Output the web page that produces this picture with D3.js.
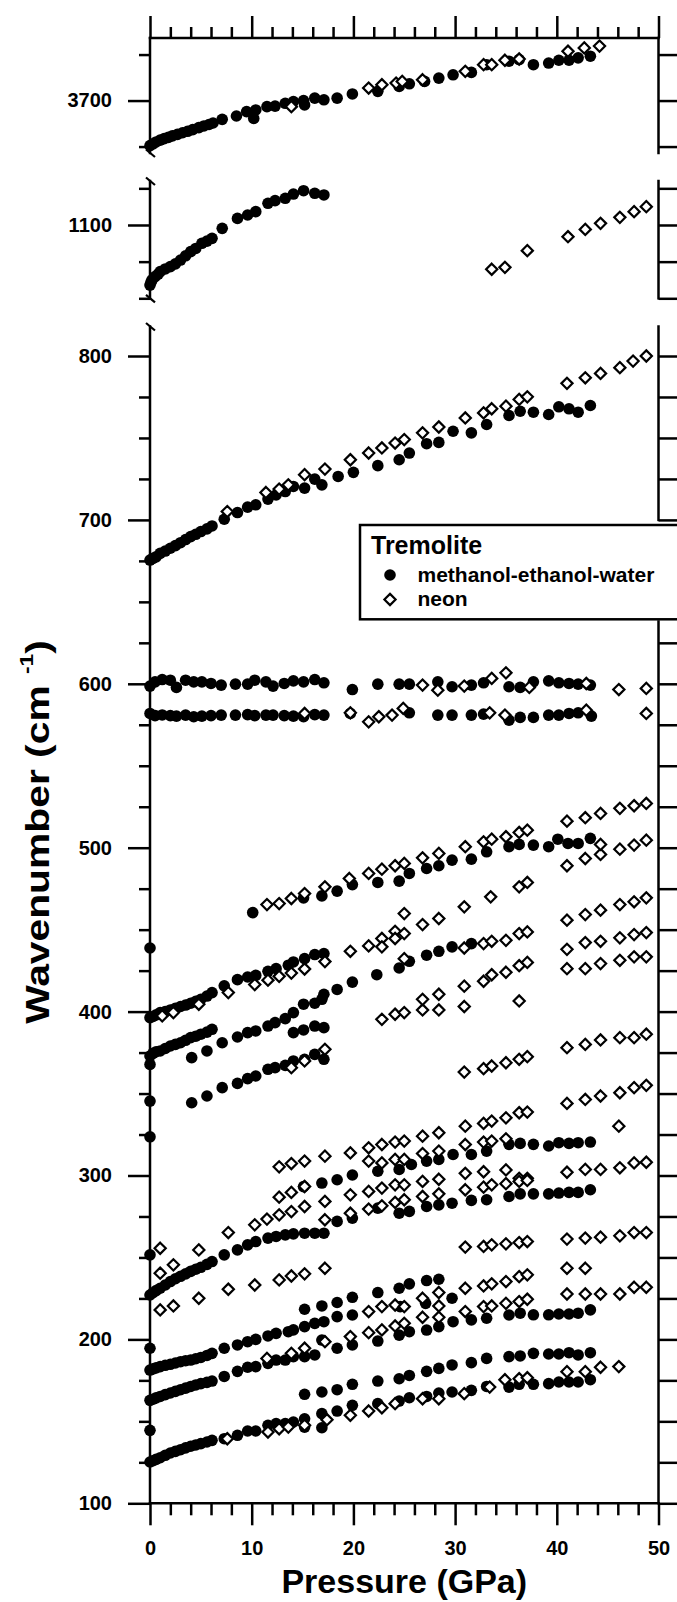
<!DOCTYPE html>
<html>
<head>
<meta charset="utf-8">
<script src="https://cdn.jsdelivr.net/npm/d3@7"></script>
<style>
  html, body { margin: 0; padding: 0; background: #fff; }
  svg { display: block; }
  text { font-family: "Liberation Sans", Arial, sans-serif; font-weight: bold; fill: #000; }
</style>
</head>
<body>
<svg id="chart" width="677" height="1602"></svg>
<script>
// ---------------------------------------------------------------
// Raman mode frequencies of tremolite vs. pressure, [GPa, cm^-1]
// mew  = methanol-ethanol-water medium (filled circles)
// neon = neon medium (open diamonds)
// ---------------------------------------------------------------

// O-H stretching region
const mewOH = [[0,3675.5],[0.3,3676.5],[0.6,3677.5],[1,3678.5],[1.4,3679.3],[1.8,3680],[2.2,3680.8],[2.7,3681.6],[3.2,3682.5],[3.7,3683.3],[4.2,3684.2],[4.8,3685.3],[5.3,3686.2],[5.8,3687],[6.2,3687.8],[7.1,3689.8],[8.5,3691.6],[9.5,3694],[10.2,3690.3],[10.4,3694.9],[11.5,3696.7],[12.3,3697],[13.3,3698.5],[14.1,3699.5],[15.1,3700],[15.2,3697.6],[16.2,3701.3],[17.1,3700.4],[18.4,3701.3],[19.9,3703.6],[22.4,3705],[24.5,3707.7],[25.5,3709.1],[27,3710.4],[28.4,3712.2],[29.8,3714],[31.6,3715.3],[33.1,3719.5],[35.3,3721.4],[36.3,3722.3],[37.7,3719.5],[39.2,3720.4],[40.2,3721.9],[41.2,3721.9],[42.1,3723.2],[43.3,3724.1]];
const neonOH = [[13.9,3696.7],[21.5,3706.8],[22.8,3708.6],[24.2,3709.5],[24.8,3710.4],[26.8,3711.3],[31,3715.9],[32.8,3719.5],[33.6,3719.5],[34.9,3721.9],[36.3,3722.6],[41.1,3726.8],[42.7,3728.6],[44.2,3729.6]];

// Si-O stretching region
const mew1059 = [[0,1059],[0.1,1061],[0.2,1062.5],[0.5,1064.8],[0.8,1066.5],[1,1068.2],[1.5,1070],[2,1071.6],[2.5,1073.5],[3,1076.1],[3.5,1079],[4,1081.8],[4.5,1084],[5.1,1087.5],[5.6,1089],[6.1,1090.9],[7.1,1097.7],[8.6,1104.5],[9.6,1106.8],[10.4,1109.1],[11.6,1114.8],[12.3,1116.6],[13.3,1118.2],[14.1,1121.1],[15.1,1123.4],[16.2,1121.6],[17.1,1120.5]];
const neon1059 = [[33.6,1069.8],[34.9,1071.1],[37.1,1082.5],[41.1,1092],[42.8,1097],[44.3,1101.1],[46.2,1105.2],[47.6,1109.1],[48.8,1112.5]];

// Lattice and bending region, methanol-ethanol-water
const mew675 = [[0,675.5],[0.3,676.5],[0.6,677.5],[1,679.6],[1.5,681],[2,682.7],[2.5,684.3],[3,686.1],[3.5,688],[4,689.8],[4.5,691.2],[5,692.9],[5.6,694.5],[6.1,696.3],[7.3,700.4],[8.6,704.5],[9.6,707.8],[10.4,709.2],[11.6,712.7],[12.4,715.3],[13.3,717.3],[14.1,720.4],[15.2,719.4],[16.2,724.9],[16.9,721.4],[18.5,726.5],[20,729],[22.4,733.1],[24.5,736.7],[25.5,740.8],[27.2,746.5],[28.4,747.3],[29.8,754.1],[31.6,753.1],[33.1,758.2],[35.3,763.7],[36.4,766.3],[37.7,765.7],[39.2,764.3],[40.2,769],[41.2,767.8],[42.1,765.7],[43.3,769.8]];
const mew600 = [[0,598.6],[0.5,601.2],[1.2,602.6],[2,602.2],[2.6,597.8],[3.5,602.2],[4.3,601.2],[5.1,601.2],[6,600.2],[7,599.2],[8.4,599.8],[9.6,599.8],[10.3,602.2],[11.4,601.2],[12.1,598.6],[13.2,600.2],[14.1,601.8],[15.1,601.2],[16.2,602.6],[17.1,600.6],[19.9,596.5],[22.4,599.8],[24.5,599.8],[25.5,599.8],[28.3,601.2],[29.7,598.2],[31.6,599.2],[32.8,600.6],[35.3,598.2],[36.4,597.8],[37.7,601.2],[39.2,601.8],[40.2,600.6],[41.2,600.2],[42.1,599.8],[43.3,599.2]];
const mew581 = [[0,581.9],[0.5,580.6],[1.2,581],[2,580.6],[2.6,580.3],[3.5,580.9],[4.3,579.9],[5.1,580.3],[6,580.6],[7,580.9],[8.4,580.9],[9.6,581.2],[10.3,580.6],[11.4,580.9],[12.1,580.9],[13.2,580.6],[14.1,580.3],[15.1,579.9],[16.2,581.2],[17.1,580.9],[19.7,581.9],[25.5,582.3],[28.3,580.9],[29.7,580.9],[31.6,580.9],[32.8,581.5],[35.3,577.8],[36.4,579.5],[37.7,579.5],[39.2,580.9],[40.2,580.9],[41.2,581.9],[42.1,582.3],[43.4,580.3]];
const mew460 = [[10.1,460.4],[15.1,469.4],[16.9,470.6],[18.4,473.5],[19.9,477.5],[22.4,478.8],[24.5,479.6],[25.5,484.3],[27.2,487.3],[28.4,489],[29.7,492.4],[31.6,493],[33.1,497.5],[35.3,500.6],[36.3,502],[37.7,501.6],[39.2,500.6],[40.1,505.2],[41.1,502.6],[42.1,502.6],[43.3,505.7]];
const mew397 = [[0,396.3],[0.3,397],[0.6,398],[1,399.4],[1.5,400],[2,401],[2.5,402],[3,403.1],[3.5,404],[4,405.1],[4.5,406.3],[5,407.5],[5.6,409.5],[6.1,411.6],[7.3,415.7],[8.6,419.5],[9.6,421.1],[10.4,422.1],[11.6,424.6],[12.4,426.2],[13.6,428.3],[14.1,430.3],[15.2,432.3],[16.2,434.8],[17.1,435.4]];
const mew373 = [[0,372.9],[0.3,374.5],[0.6,375.5],[1,376],[1.5,377.5],[2,379],[2.5,380],[3,381],[3.5,382.5],[4,384.1],[4.5,385],[5,386.2],[5.6,387.5],[6.1,389.2]];
const mew372 = [[4.1,371.9],[5.6,376],[7.1,381],[8.6,384.5],[9.6,387.2],[10.4,388.2],[11.6,391.2],[12.3,393.3],[13.3,395.7],[14.1,399.4],[15.1,404.5],[16.2,405.1],[16.9,407.5],[17.1,410.6],[18.4,413.5],[19.9,418],[22.3,422.5],[24.5,426.6],[25.5,430.7],[27.2,434.4],[28.4,436.8],[29.7,439.5],[31.6,441.5]];
const mew390 = [[14.1,387.2],[15.1,388.8],[16.2,391.2],[17.1,390.2]];
const mew345 = [[4.1,344.4],[5.6,348.5],[7.1,353.6],[8.6,356.2],[9.6,359.1],[10.4,360.7],[11.6,364.8],[12.3,365.8],[13.3,367.2],[14.1,369.9],[15.2,370.9],[16.2,373.9],[17.1,370.9]];
const mewAmbient = [[0,438.8],[0,367.8],[0,345.4],[0,323.6],[0,251.6],[0,194.6],[0,144.5]];
const mew293 = [[15.1,293.2],[16.9,295.4],[18.4,297.4],[19.9,300.3],[22.4,302.6],[24.5,303.7],[25.7,306.7],[27.2,308.8],[28.4,309.8],[29.8,312.8],[31.6,312.8],[33.1,314.9],[35.3,319],[36.4,319.6],[37.7,319],[39.2,318],[40.2,320],[41.2,319.6],[42.1,320],[43.3,320.4]];
const mew227 = [[0,227.1],[0.3,228.5],[0.6,229.8],[1,231.2],[1.5,233.2],[2,235.3],[2.5,237],[3,238.5],[3.5,240],[4,241.5],[4.5,242.8],[5,244],[5.6,245.8],[6.1,247.5],[7.3,251.6],[8.6,254.6],[9.6,257.7],[10.4,259.7],[11.6,261.8],[12.4,262.8],[13.3,263.8],[14.1,264.4],[15.2,264.8],[16.2,264.8],[17.1,264.8],[18.4,272],[19.9,274],[22.4,280.1],[24.5,277],[25.5,278.1],[27.2,281.1],[28.4,282.1],[29.7,283.1],[31.6,284.8],[33.1,285.2],[35.3,287.2],[36.4,288.8],[37.7,288.8],[39.2,288.8],[40.2,289.3],[41.2,289.7],[42.1,289.7],[43.3,291.3]];
const mew218 = [[15.2,218.4],[16.9,220.4],[18.4,222.5],[19.9,225.7],[22.4,228.6],[24.5,231.2],[25.5,233.9],[27.2,235.9],[28.4,236.7]];
const mew182 = [[0,181.3],[0.3,182],[0.6,182.6],[1,183.4],[1.5,184.2],[2,184.8],[2.5,185.6],[3,186.4],[3.5,187],[4,187.4],[4.5,188.2],[5,189],[5.6,190.2],[6.1,191.5],[7.3,194.6],[8.6,196.6],[9.6,198.6],[10.4,200],[11.6,202.1],[12.4,203.7],[13.6,204.7],[14.1,205.8],[15.2,207.8],[16.2,209.8],[17.1,210.8],[18.4,213.9],[19.9,214.9],[24.6,220],[27.1,222],[29.7,225.1]];
const mew163 = [[0,162.8],[0.3,163.5],[0.6,164.3],[1,165.2],[1.5,166.3],[2,167.3],[2.5,168.3],[3,169.3],[3.5,170.3],[4,171.3],[4.5,172.2],[5,173],[5.6,173.8],[6.1,174.6],[7.3,177.4],[8.6,180.5],[9.6,183],[10.4,183.4],[11.6,185.4],[12.4,187.4],[13.3,187.4],[14.1,189.5],[15.2,189.5],[16.2,190.5],[16.9,199.6],[18.4,194.6],[19.9,196.6],[22.4,199],[24.5,202.6],[25.5,204.7],[27.2,205.7],[28.4,207.8],[29.8,210.8],[31.6,211.9],[33.1,212.9],[35.3,214.9],[36.4,216],[37.7,215],[39.2,215],[40.2,215.5],[41.2,215.5],[42.1,216],[43.3,218]];
const mew166 = [[15.2,166.5],[16.9,167.9],[18.4,169.3],[19.9,172.6],[22.4,174.6],[24.5,176],[25.5,178],[27.2,180.5],[28.4,182.3],[29.7,184.4],[31.6,185.8],[33.1,188.4],[35.3,189.5],[36.4,189.9],[37.7,191.5],[39.2,191.1],[40.2,191.1],[41.2,191.9],[42.1,190.5],[43.3,191.9]];
const mew125 = [[0,125.2],[0.3,126],[0.6,126.8],[1,127.8],[1.5,129.3],[2,130.7],[2.5,131.7],[3,132.7],[3.5,133.8],[4,134.8],[4.5,135.6],[5,136.4],[5.6,137.4],[6.1,138.4],[7.3,139.4],[8.6,141.5],[9.6,144.1],[10.4,144.1],[11.6,147.6],[12.4,148.6],[13.3,148.6],[14.1,149.6],[15.2,151.6],[15.2,146.5],[16.9,154.7],[16.9,146.1],[18.4,156.3],[19.9,159.8],[22.4,160.8],[24.5,162.4],[25.5,164.4],[27.2,165.2],[28.4,167.3],[29.7,167.9],[31.6,168.9],[33.1,171.3],[35.3,170.9],[36.3,172.6],[37.7,172.6],[39.2,173],[40.2,174],[41.2,174],[42.1,174],[43.3,175.4]];

// Lattice and bending region, neon
const neon675 = [[7.6,705.1],[11.4,716.7],[12.7,718.8],[13.6,721.4],[15.2,727.6],[17.2,731],[19.7,736.7],[21.5,740.8],[22.8,743.9],[24.1,746.9],[25,749],[26.8,753.1],[28.4,756.7],[31,762.2],[32.8,765.3],[33.6,767.8],[35,769.4],[36.3,773.5],[37.1,775.1],[41,783.3],[42.8,786.7],[44.3,789.4],[46.2,792.9],[47.5,796.9],[48.8,800]];
const neon600 = [[26.8,599.2],[28.3,596.1],[30.9,598.6],[33.6,603.3],[35,606.7],[37.3,597.8],[42.9,600.2],[46.1,596.5],[48.8,597.2]];
const neon581 = [[15.2,581.9],[19.7,582.3],[21.5,576.8],[22.5,579.9],[23.8,580.9],[24.9,585],[33.4,582.3],[34.9,580.9],[42.9,583.9],[48.8,581.9]];
const neon520 = [[11.5,465.3],[12.7,465.9],[13.9,469],[15.2,472],[17.2,476.1],[19.6,481.2],[21.5,484.3],[22.8,486.9],[24.1,489],[25,490.4],[26.8,493.8],[28.4,496.5],[31,500.6],[32.8,503.6],[33.6,505.2],[35,506.7],[36.3,509.3],[37.1,510.7],[41,516.2],[42.8,518.3],[44.3,520.9],[46.2,524],[47.6,525.6],[48.8,527]];
const neon495 = [[41,489],[42.8,493.4],[44.3,495.9],[44.3,502],[46.2,499.1],[47.6,501.6],[48.8,504.6]];
const neon460 = [[19.7,436.8],[21.5,440.1],[22.8,444.6],[24.1,449],[25,459.8],[26.8,453.1],[28.4,456.8],[30.9,463.9],[33.5,470],[36.3,476.1],[37.1,478.8],[41,455.8],[42.8,459.2],[44.3,461.9],[46.2,465.3],[47.6,467],[48.8,469.4]];
const neon440 = [[22.8,439.5],[24.1,444.6],[25,447.6],[25,432.3],[30.9,438.8],[32.8,441.5],[33.6,442.9],[35,443.5],[36.3,447.6],[37.1,448.6],[41,438],[42.8,442.1],[44.3,442.9],[46.2,445],[47.6,447],[48.8,448.2]];
const neon425 = [[30.9,415.5],[32.8,418.5],[33.6,422.5],[35,424],[36.3,428],[37.1,430],[41,426.2],[42.8,426.2],[44.3,429.3],[46.2,431.3],[47.6,433.4],[48.8,433.4]];
const neon400 = [[22.8,395.3],[24.1,398.4],[25,399.4],[26.8,401],[28.4,401],[30.9,403.1],[36.3,406.5],[26.8,407.5],[28.4,410.6]];
const neon397 = [[1.2,397.4],[2.3,399.4],[4.8,404.5],[7.7,411.6],[10.3,416.5],[11.6,419.2],[12.7,421.5],[13.9,423.5],[15.2,426],[17.2,430.5]];
const neon370 = [[13.9,365.8],[15.2,369.9],[17.2,377],[30.9,363.1],[32.8,365.2],[33.6,366.8],[35,368.8],[36.3,370.9],[37.1,372.5],[41,378],[42.8,380],[44.3,382.7],[46.2,384.1],[47.6,384.1],[48.8,386.2]];
const neon345 = [[41,344],[42.8,346.4],[44.3,348.5],[46.2,350.5],[47.6,353.6],[48.8,355],[46.1,330.1]];
const neon305 = [[12.7,305.3],[13.9,307.3],[15.2,308.8],[17.2,311.8],[19.7,313.8],[21.5,316.9],[22.8,318.9],[24.1,320.4],[25,321],[26.8,324],[28.4,326.1],[31,330.1],[32.8,331.8],[33.6,333.2],[35,335.2],[36.3,338.3],[37.1,338.7]];
const neon309 = [[21.5,308.8],[22.8,307.7],[24.1,309.8],[25,309.8],[26.8,313.4],[28.4,314.9],[31,318.9],[32.8,320.4],[33.6,321],[35,322.4],[41,302],[42.8,303.7],[44.3,303.7],[46.2,304.7],[47.6,307.7],[48.8,308.1]];
const neon290 = [[12.7,286.8],[13.9,289.7],[15.2,293.3],[17.2,284.2],[19.7,288.2],[21.5,290.3],[22.8,292.3],[24.1,294.3],[25,294.3],[26.8,296.4],[28.4,297.7],[31,301.3],[32.8,302.3],[35,303.4],[36.3,298.3],[37.1,298.3]];
const neon273 = [[17.2,273],[19.7,277],[21.5,279.5],[22.8,281.5],[24.1,283.6],[25,285.2],[26.8,287.2],[28.4,288.8],[31,291.3],[32.8,292.9],[33.6,294.3],[35,295],[36.3,296.4],[37.1,297]];
const neon240 = [[1,240.4],[2.3,245.5],[4.8,254.6],[7.7,265.2],[10.3,269.9],[11.5,273.4],[12.7,276],[13.9,278],[15.2,281.1],[1,255.6]];
const neon258 = [[31,256.3],[32.8,256.7],[33.6,257.7],[35,258.3],[36.3,259.1],[37.1,259.7],[41,261.2],[42.8,261.8],[44.3,262.4],[46.2,263.2],[47.6,265.2],[48.8,265.2],[41,243.4],[42.8,243.4]];
const neon218 = [[1,218],[2.3,220.4],[4.8,225.1],[7.7,230.6],[10.3,233.2],[12.7,236.3],[13.9,238.7],[15.2,240],[17.2,243.4],[31,231.2],[32.8,232.6],[33.6,233.9],[35,235.3],[36.3,238.3],[37.1,239.4]];
const neon220 = [[21.5,217],[22.8,220],[24.1,221],[25,220],[26.8,225.1],[28.4,228.6],[28.4,220.4],[31,217],[32.8,220],[33.6,220.4],[35,222],[36.3,223.1],[37.1,224.5],[41,227.7],[42.8,227.7],[44.3,227.7],[46.2,227.7],[47.6,231.8],[48.8,231.8]];
const neon190 = [[11.5,188.4],[13.9,191.5],[15.2,194.6],[17.2,198.6],[19.7,201.7],[21.5,204.1],[22.8,205.8],[24.1,208.2],[25,209.8],[26.8,213.5],[28.4,213.5]];
const neon140 = [[7.6,139.4],[11.6,143.5],[12.7,145.5],[13.6,146.5],[15.2,147.6],[17.4,151],[19.7,153.7],[21.5,156.3],[22.8,158.3],[24.1,160.8],[26.8,163.8],[28.4,163.8],[30.9,166.9],[33.4,170.9],[34.9,175.4],[36.3,176],[37.1,176.6],[41,180.3],[42.8,180.3],[44.3,183],[46.1,183.4]];

// Tick labels
const xTickLabels = [0, 10, 20, 30, 40, 50];
const ohTickLabels = [3700];
const siTickLabels = [1100];
const lowTickLabels = [100, 200, 300, 400, 500, 600, 700, 800];

// Legend entries
const legendTitle = "Tremolite";
const legendItems = ["methanol-ethanol-water", "neon"];

// ---------------------------------------------------------------
const svg = d3.select("#chart");
const AXIS_W = 2.5;
const FONT_TICK = 20;
const DOT_R = 5.8;

const x = d3.scaleLinear().domain([0, 50]).range([150, 658.5]);
const xLeft = x(0), xRight = x(50);

// three stacked panels sharing the pressure axis
const panels = [
  { y: d3.scaleLinear().domain([3671.5, 3734]).range([153, 38]),
    labels: ohTickLabels, mew: [mewOH], neon: [neonOH],
    rightSegments: [[3671.5, 3734]], breakTop: false, breakBottom: true },
  { y: d3.scaleLinear().domain([1050, 1130]).range([298.3, 181]),
    labels: siTickLabels, mew: [mew1059], neon: [neon1059],
    rightSegments: [[1050, 1130]], breakTop: true, breakBottom: true },
  { y: d3.scaleLinear().domain([100, 818]).range([1503.3, 326.5]),
    labels: lowTickLabels,
    mew: [mew675, mew600, mew581, mew460, mew397, mew373, mew372, mew390, mew345, mewAmbient, mew293, mew227, mew218, mew182, mew163, mew166, mew125],
    neon: [neon675, neon600, neon581, neon520, neon495, neon460, neon440, neon425, neon400, neon397, neon370, neon345, neon305, neon309, neon290, neon273, neon240, neon258, neon218, neon220, neon190, neon140],
    rightSegments: [[100, 638], [700, 818]], breakTop: true, breakBottom: false }
];

function styleAxis(g) {
  g.select(".domain").remove();
  g.selectAll(".tick line").attr("stroke", "#000").attr("stroke-width", AXIS_W);
  g.selectAll(".tick text")
    .attr("font-size", FONT_TICK)
    .attr("font-family", '"Liberation Sans", Arial, sans-serif')
    .attr("font-weight", "bold")
    .attr("fill", "#000");
}

function vline(xp, y1, y2) {
  svg.append("line").attr("x1", xp).attr("x2", xp).attr("y1", y1).attr("y2", y2)
    .attr("stroke", "#000").attr("stroke-width", AXIS_W).attr("stroke-linecap", "square");
}

function breakMark(yp) {
  svg.append("line")
    .attr("x1", xLeft - 4).attr("y1", yp - 3.5)
    .attr("x2", xLeft + 5).attr("y2", yp + 4)
    .attr("stroke", "#000").attr("stroke-width", 2.2);
}

const axesLayer = svg.append("g");

panels.forEach(p => {
  const y = p.y;
  const [d0, d1] = y.domain();
  const all = d3.range(Math.ceil(d0 / 25) * 25, d1 + 0.001, 25);
  const major = all.filter(v => p.labels.includes(v));
  const minor = all.filter(v => !p.labels.includes(v));

  // left axis line
  vline(xLeft, y(d0), y(d1));

  axesLayer.append("g").attr("transform", `translate(${xLeft},0)`)
    .call(d3.axisLeft(y).tickValues(minor).tickSize(11).tickFormat(""))
    .call(styleAxis);
  axesLayer.append("g").attr("transform", `translate(${xLeft},0)`)
    .call(d3.axisLeft(y).tickValues(major).tickSize(22).tickPadding(16).tickFormat(d3.format("d")))
    .call(styleAxis);

  // right axis, interrupted where the legend sits
  p.rightSegments.forEach(([a, b]) => vline(xRight, y(a), y(b)));
  const rightTicks = all.filter(v => p.rightSegments.some(([a, b]) => v >= a && v <= b));
  axesLayer.append("g").attr("transform", `translate(${xRight},0)`)
    .call(d3.axisRight(y).tickValues(rightTicks).tickSize(20).tickFormat(""))
    .call(styleAxis);

  if (p.breakTop) breakMark(y(d1));
  if (p.breakBottom) breakMark(y(d0));
});

// pressure axes: top edge of the upper panel and bottom edge of the lower panel
const xMajor = xTickLabels;
const xMinor = d3.range(0, 50.001, 2).filter(v => v % 10 !== 0);
const yTopEdge = panels[0].y.range()[1];
const yBottomEdge = panels[2].y.range()[0];

svg.append("line").attr("x1", xLeft).attr("x2", xRight).attr("y1", yTopEdge).attr("y2", yTopEdge)
  .attr("stroke", "#000").attr("stroke-width", AXIS_W).attr("stroke-linecap", "square");
svg.append("line").attr("x1", xLeft).attr("x2", xRight).attr("y1", yBottomEdge).attr("y2", yBottomEdge)
  .attr("stroke", "#000").attr("stroke-width", AXIS_W).attr("stroke-linecap", "square");

axesLayer.append("g").attr("transform", `translate(0,${yTopEdge})`)
  .call(d3.axisTop(x).tickValues(xMinor).tickSize(11).tickFormat("")).call(styleAxis);
axesLayer.append("g").attr("transform", `translate(0,${yTopEdge})`)
  .call(d3.axisTop(x).tickValues(xMajor).tickSize(22).tickFormat("")).call(styleAxis);
axesLayer.append("g").attr("transform", `translate(0,${yBottomEdge})`)
  .call(d3.axisBottom(x).tickValues(xMinor).tickSize(12).tickFormat("")).call(styleAxis);
axesLayer.append("g").attr("transform", `translate(0,${yBottomEdge})`)
  .call(d3.axisBottom(x).tickValues(xMajor).tickSize(22).tickPadding(16).tickFormat(d3.format("d")))
  .call(styleAxis);

// data points: circles first, diamonds (white-filled) on top
const diamond = "M0,-5.6L5.6,0L0,5.6L-5.6,0Z";
const pts = svg.append("g");
panels.forEach(p => {
  p.mew.forEach(series => {
    pts.append("g").selectAll("circle").data(series).join("circle")
      .attr("cx", d => x(d[0])).attr("cy", d => p.y(d[1])).attr("r", DOT_R)
      .attr("fill", "#000");
  });
});
panels.forEach(p => {
  p.neon.forEach(series => {
    pts.append("g").selectAll("path").data(series).join("path")
      .attr("d", diamond)
      .attr("transform", d => `translate(${x(d[0])},${p.y(d[1])})`)
      .attr("fill", "#fff").attr("stroke", "#000").attr("stroke-width", 2.2);
  });
});

// axis titles
svg.append("text")
  .attr("x", (xLeft + xRight) / 2).attr("y", 1593)
  .attr("text-anchor", "middle").attr("font-size", 34)
  .text("Pressure (GPa)");

const yTitle = svg.append("text")
  .attr("transform", "translate(49,832) rotate(-90) scale(1.2,1)")
  .attr("text-anchor", "middle").attr("font-size", 34);
yTitle.append("tspan").text("Wavenumber (cm ");
yTitle.append("tspan").attr("font-size", 19).attr("dy", -16).text(" -1");
yTitle.append("tspan").attr("dy", 16).text(")");

// legend box
const legend = svg.append("g");
legend.append("rect")
  .attr("x", 360).attr("y", 525).attr("width", 340).attr("height", 94.3)
  .attr("fill", "#fff").attr("stroke", "#000").attr("stroke-width", AXIS_W);
legend.append("text").attr("x", 371).attr("y", 554).attr("font-size", 25).text(legendTitle);
legend.append("circle").attr("cx", 390).attr("cy", 575).attr("r", DOT_R).attr("fill", "#000");
legend.append("text").attr("x", 417.5).attr("y", 581.5).attr("font-size", 21).text(legendItems[0]);
legend.append("path").attr("d", diamond).attr("transform", "translate(390,599.5)")
  .attr("fill", "#fff").attr("stroke", "#000").attr("stroke-width", 2.2);
legend.append("text").attr("x", 417.5).attr("y", 606).attr("font-size", 21).text(legendItems[1]);
</script>
</body>
</html>
